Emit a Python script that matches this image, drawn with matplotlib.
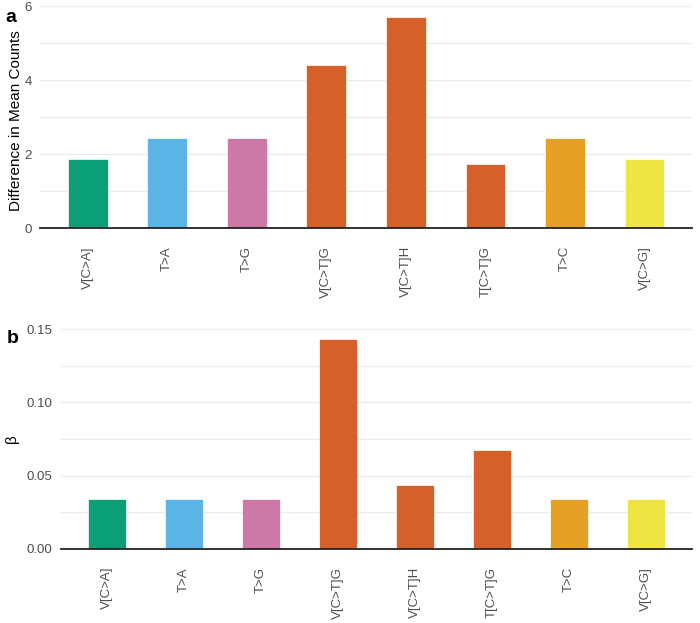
import matplotlib.pyplot as plt
from matplotlib.ticker import MultipleLocator

plt.rcParams["font.family"] = ["Liberation Sans", "DejaVu Sans"]

categories_a = ["V[C>A]", "T>A", "T>G", "V[C>T]G", "V[C>T]H", "T[C>T]G", "T>C", "V[C>G]"]
mean_diff = [1.87, 2.45, 2.45, 4.40, 5.72, 1.74, 2.45, 1.87]

categories_b = ["V[C>A]", "T>A", "T>G", "V[C>T]G", "V[C>T]H", "T[C>T]G", "T>C", "V[C>G]"]
beta = [0.034, 0.034, 0.034, 0.143, 0.0435, 0.0675, 0.034, 0.034]

colors = ["#0A9F77", "#5AB4E6", "#CC79A8", "#D56028", "#D56028", "#D56028", "#E6A024", "#F0E443"]

GRID = "#EBEBEB"
TXT = "#4D4D4D"


def style(ax, ymax, major, minor):
    ax.set_xlim(0.4, len(categories_a) + 0.6)
    ax.set_ylim(0, ymax)
    ax.yaxis.set_major_locator(MultipleLocator(major))
    ax.yaxis.set_minor_locator(MultipleLocator(minor))
    ax.grid(axis="y", which="both", color=GRID, linewidth=0.9)
    ax.set_axisbelow(True)
    for s in ["top", "right", "left"]:
        ax.spines[s].set_visible(False)
    ax.spines["bottom"].set_color("#222222")
    ax.spines["bottom"].set_linewidth(1.3)
    ax.tick_params(axis="both", which="both", length=0, colors=TXT, labelsize=9.5)
    ax.tick_params(axis="x", pad=13)
    ax.tick_params(axis="y", pad=6)


fig = plt.figure(figsize=(7, 6.23), dpi=100)

ax1 = fig.add_axes([0.057, 0.634, 0.932, 0.357])
x = range(1, len(categories_a) + 1)
ax1.bar(x, mean_diff, width=0.5, color=colors, edgecolor="white", linewidth=0.5)
style(ax1, 6.02, 2, 1)
ax1.set_xticks(list(x))
ax1.set_xticklabels(categories_a, rotation=90)
ax1.set_ylabel("Difference in Mean Counts", fontsize=11, color="black")
ax1.yaxis.set_label_coords(-0.026, 0.484)
fig.text(0.007, 0.972, "a", fontsize=14, fontweight="bold", va="center")

ax2 = fig.add_axes([0.087, 0.119, 0.902, 0.354])
ax2.bar(x, beta, width=0.5, color=colors, edgecolor="white", linewidth=0.5)
style(ax2, 0.1505, 0.05, 0.025)
ax2.set_xticks(list(x))
ax2.set_xticklabels(categories_b, rotation=90)
ax2.yaxis.set_major_formatter(lambda v, p: f"{v:.2f}")
ax2.set_ylabel("β", fontsize=11, color="black")
ax2.yaxis.set_label_coords(-0.066, 0.5)
fig.text(0.01, 0.456, "b", fontsize=14, fontweight="bold", va="center")

plt.savefig("out.png", dpi=100)
plt.close()
